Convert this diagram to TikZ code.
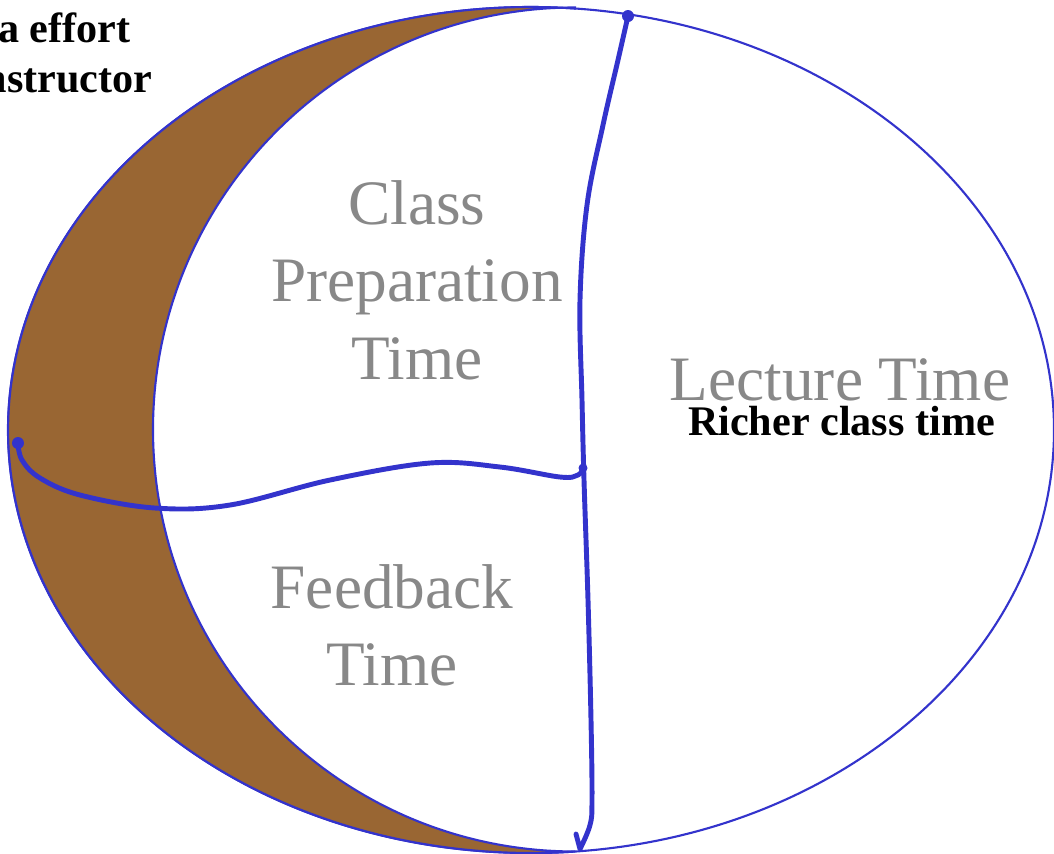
\documentclass[tikz,border=0pt]{standalone}
\usepackage{fontspec}
\setmainfont{Liberation Serif}
\definecolor{penblue}{RGB}{51,51,204}
\definecolor{crescent}{RGB}{153,102,51}
\definecolor{labelgray}{RGB}{136,136,136}
\begin{document}
\begin{tikzpicture}[
  outline/.style={draw=penblue, line width=0.6pt},
  pen/.style={draw=penblue, line width=1.4pt, line cap=round, line join=round},
  bigtext/.style={text=labelgray, font=\fontsize{18}{22}\selectfont, align=center, inner sep=0pt},
  boldtext/.style={text=black, font=\fontsize{12}{14}\selectfont\bfseries, inner sep=0pt}
]
\useasboundingbox (0,0) rectangle (10.54,-8.53);
% outer ellipse
\draw[outline, fill=white] (5.31,-4.30) ellipse [x radius=5.23, y radius=4.23];
% crescent
\path[outline, fill=crescent] (5.75,-0.085)
  arc[start angle=85.18, end angle=274.82, x radius=5.23, y radius=4.23]
  arc[start angle=270, end angle=90, radius=4.22] -- cycle;
% freehand dividers
\coordinate (vtop) at (6.28,-0.16);
\coordinate (vhook) at (5.76,-8.34);
\coordinate (hstart) at (0.18,-4.43);
\coordinate (hend) at (5.83,-4.68);
\draw[pen] plot[smooth, tension=0.6] coordinates {(6.28,-0.16) (6.18,-0.60) (6.03,-1.25) (5.87,-2.05) (5.80,-3.00) (5.82,-4.00) (5.84,-4.80) (5.88,-6.00) (5.91,-7.20) (5.92,-8.00) (5.90,-8.25) (5.80,-8.49)} -- (vhook);
\draw[pen] plot[smooth, tension=0.6] coordinates {(0.18,-4.43) (0.22,-4.60) (0.40,-4.78) (0.80,-4.95) (1.55,-5.08) (2.30,-5.05) (3.30,-4.80) (4.30,-4.63) (5.00,-4.67) (5.60,-4.77) (5.78,-4.75) (5.83,-4.68)};
\fill[penblue] (vtop) circle (0.06);
\fill[penblue] (hstart) circle (0.06);
\fill[penblue] (hend) circle (0.045);
% labels
\node[bigtext, anchor=north] (prep) at (4.17,-1.80) {Class\\Preparation\\Time};
\node[bigtext, anchor=north] (feedback) at (3.92,-5.635) {Feedback\\Time};
\node[bigtext, anchor=base] (lecture) at (8.40,-4.00) {Lecture Time};
\node[boldtext, anchor=base] (richer) at (8.415,-4.35) {Richer class time};
\node[boldtext, anchor=base east] (effort) at (1.31,-0.42) {a effort};
\node[boldtext, anchor=base east] (instr) at (1.53,-0.92) {nstructor};
\end{tikzpicture}
\end{document}
